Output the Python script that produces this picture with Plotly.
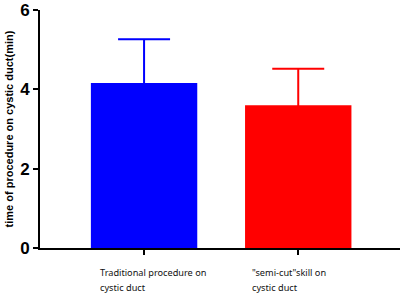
import plotly.graph_objects as go

category_lines = [["Traditional procedure on", "cystic duct"],
                  ["\"semi-cut\"skill on", "cystic duct"]]
means = [4.16, 3.6]
sd_upper = [1.10, 0.92]
colors = ["#0000FF", "#FF0000"]
y_ticks = [0, 2, 4, 6]

x_idx = [0, 1]
fig = go.Figure()
for i in x_idx:
    fig.add_trace(go.Bar(
        x=[i], y=[means[i]], width=0.69,
        marker=dict(color=colors[i], line=dict(width=0)),
        error_y=dict(type="data", symmetric=True, array=[sd_upper[i]],
                     color=colors[i], thickness=2, width=26),
        showlegend=False,
    ))

label_x = [-0.30, 0.69]
for i in x_idx:
    for j, line in enumerate(category_lines[i]):
        fig.add_annotation(x=label_x[i], y=0, xref="x", yref="y", yshift=-24 - 15 * j,
                           text=line, showarrow=False, xanchor="left", yanchor="middle",
                           align="left",
                           font=dict(family="Noto Sans, Open Sans, sans-serif", size=9.2, color="#111"))

fig.update_layout(
    width=405, height=298,
    margin=dict(l=40, r=5, t=10, b=50),
    plot_bgcolor="white", paper_bgcolor="white",
    barmode="overlay",
    xaxis=dict(range=[-0.675, 1.66], tickvals=x_idx, ticktext=["", ""],
               showline=True, linecolor="black", linewidth=2,
               ticks="outside", ticklen=5, tickwidth=2, tickcolor="black",
               showgrid=False, zeroline=False, fixedrange=True, automargin=False),
    yaxis=dict(range=[0, 6], tickvals=y_ticks, automargin=False,
               showline=True, linecolor="black", linewidth=2,
               ticks="outside", ticklen=5, tickwidth=2, tickcolor="black",
               tickfont=dict(family="Liberation Sans, Arial, sans-serif", size=17, color="black", weight="bold"),
               showgrid=False, zeroline=False, fixedrange=True,
               title=dict(text="<b>time of procedure on cystic duct(min)</b>",
                          font=dict(family="Liberation Sans, Arial, sans-serif", size=11, color="black"),
                          standoff=4)),
)

fig.write_html("out.html", config={"displayModeBar": False},
               post_script="document.body.style.margin='0';document.body.style.overflow='hidden';")
